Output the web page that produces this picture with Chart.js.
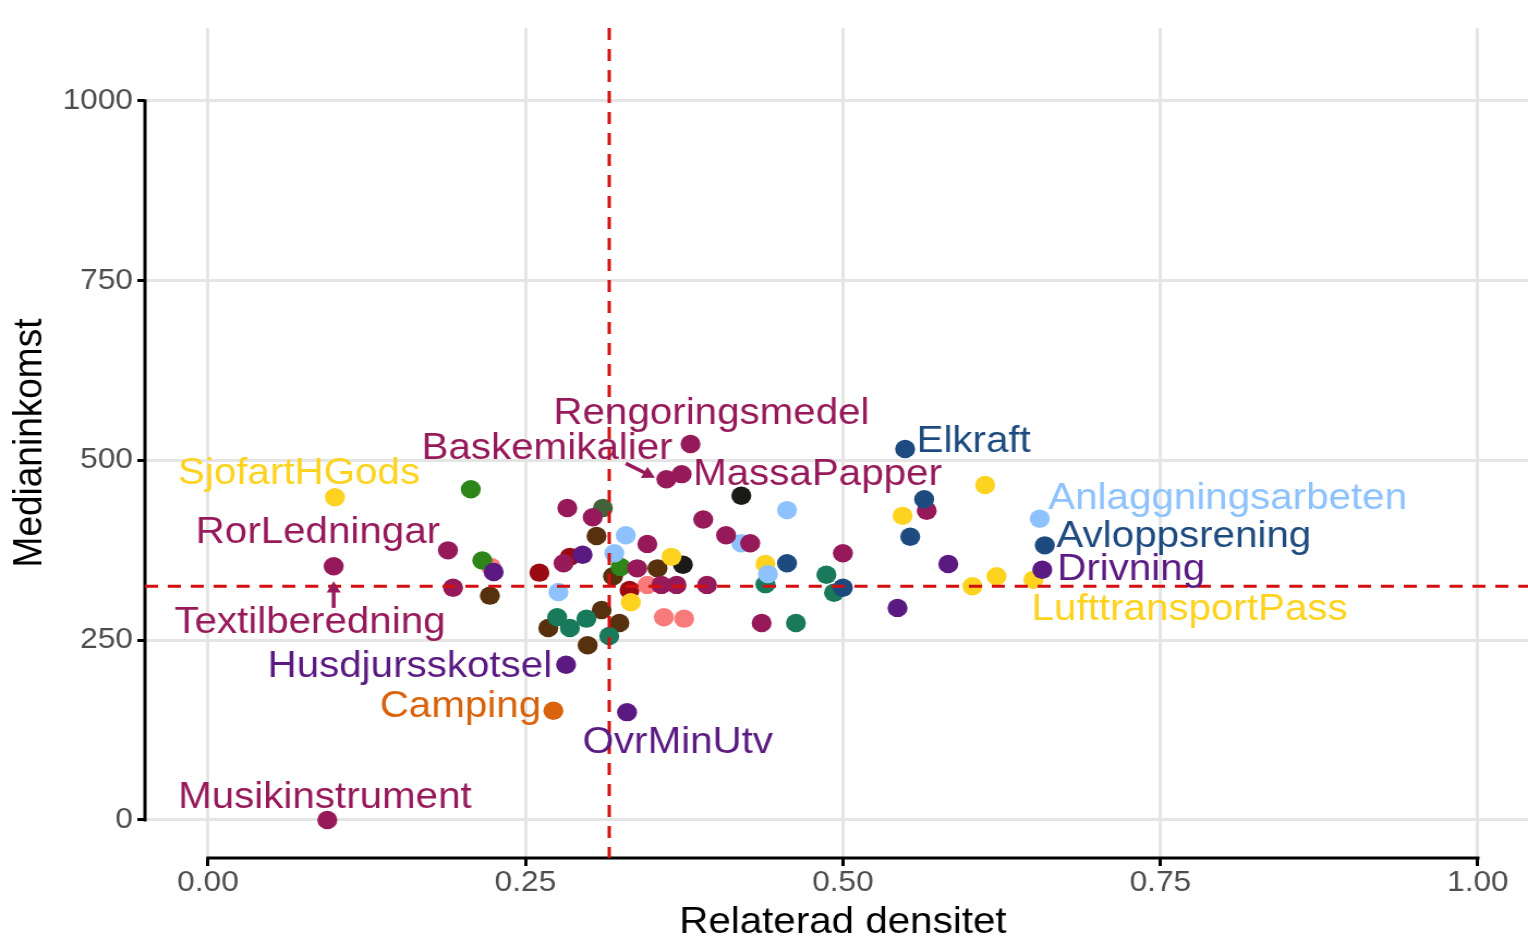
<!DOCTYPE html>
<html>
<head>
<meta charset="utf-8">
<script src="https://cdn.jsdelivr.net/npm/chart.js@4.4.1/dist/chart.umd.min.js"></script>
<style>
  html, body { margin: 0; padding: 0; background: #fff; }
</style>
</head>
<body>
<!-- the reference is a little wider than tall, so the canvas is stretched sideways -->
<canvas id="chart" width="1402" height="937" style="display:block;width:1528px;height:937px"></canvas>
<script>
// tick labels
const xTicks = [0, 0.25, 0.5, 0.75, 1];
const yTicks = [0, 250, 500, 750, 1000];
const xTitle = 'Relaterad densitet';
const yTitle = 'Medianinkomst';

// medians (dashed red lines)
const medianDensitet = 0.316;
const medianInkomst = 325;

// points [Relaterad densitet, Medianinkomst] per colour group
const marin   = [[0.549,516],[0.564,446],[0.553,394],[0.456,357],[0.500,323],[0.659,382]];
const lila    = [[0.657,348],[0.583,356],[0.543,295],[0.282,216],[0.330,150],[0.295,369],[0.225,345]];
const vinrod  = [[0.094,0],[0.099,353],[0.189,375],[0.193,323],[0.283,434],[0.303,421],[0.280,357],
                 [0.338,350],[0.346,384],[0.357,327],[0.369,327],[0.393,327],[0.361,474],[0.373,481],
                 [0.380,523],[0.390,418],[0.408,396],[0.427,385],[0.436,274],[0.500,371],[0.566,430]];
const ljusbla = [[0.655,419],[0.456,431],[0.420,385],[0.441,342],[0.329,396],[0.320,371],[0.276,317]];
const gron    = [[0.207,460],[0.216,361],[0.325,352]];
const oliv    = [[0.311,434]];
const gul     = [[0.100,449],[0.333,303],[0.365,366],[0.439,356],[0.547,423],[0.612,466],[0.602,325],
                 [0.621,339],[0.650,334]];
const turkos  = [[0.275,282],[0.285,267],[0.298,280],[0.316,256],[0.439,328],[0.463,274],[0.487,341],[0.493,316]];
const laxrosa = [[0.223,352],[0.346,327],[0.359,282],[0.375,280]];
const brun    = [[0.222,312],[0.268,267],[0.299,243],[0.306,395],[0.310,292],[0.319,339],[0.324,274],[0.354,350]];
const morkrod = [[0.261,344],[0.285,366],[0.332,320]];
const svart   = [[0.420,451],[0.374,355]];
const orange  = [[0.272,152]];

// named industries
const labelNames = ['SjofartHGods', 'RorLedningar', 'Textilberedning', 'Husdjursskotsel', 'Camping',
  'OvrMinUtv', 'Musikinstrument', 'Rengoringsmedel', 'Baskemikalier', 'MassaPapper', 'Elkraft',
  'Anlaggningsarbeten', 'Avloppsrening', 'Drivning', 'LufttransportPass'];

const colors = {
  marin: '#1E4B7F', lila: '#5B1A82', vinrod: '#961A5A', ljusbla: '#8DC2FF', gron: '#2E8519',
  oliv: '#44623A', gul: '#FDD320', turkos: '#187A5A', laxrosa: '#F87A7A', brun: '#57300E',
  morkrod: '#990A12', svart: '#1C1919', orange: '#D9620C'
};
const groups = { marin, lila, vinrod, ljusbla, gron, oliv, gul, turkos, laxrosa, brun, morkrod, svart, orange };

// where the label text sits (centre x, baseline y, in data units) and its colour
const labelAt = [[0.0717,467],[0.0866,385],[0.0803,260],[0.159,199],[0.1988,143],[0.370,93],[0.0921,17],
  [0.3965,551],[0.267,502],[0.480,466],[0.603,512],[0.803,432.5],[0.7685,380],[0.727,334],[0.773,278]];
const labelColors = ['gul','vinrod','vinrod','lila','orange','lila','vinrod','vinrod','vinrod','vinrod',
  'marin','ljusbla','marin','lila','gul'];
const arrows = [
  { from: [0.099, 295], to: [0.099, 332], color: 'vinrod' },
  { from: [0.329, 496], to: [0.352, 476], color: 'vinrod' }
];

const family = "'Liberation Sans', Arial, Helvetica, sans-serif";
Chart.defaults.font.family = family;

function drawArrow(ctx, x0, y0, x1, y1, color) {
  const a = Math.atan2(y1 - y0, x1 - x0);
  const h = 13, w = 0.52;
  ctx.strokeStyle = color;
  ctx.fillStyle = color;
  ctx.lineWidth = 3.5;
  ctx.beginPath();
  ctx.moveTo(x0, y0);
  ctx.lineTo(x1 - h * 0.7 * Math.cos(a), y1 - h * 0.7 * Math.sin(a));
  ctx.stroke();
  ctx.beginPath();
  ctx.moveTo(x1, y1);
  ctx.lineTo(x1 - h * Math.cos(a - w), y1 - h * Math.sin(a - w));
  ctx.lineTo(x1 - h * Math.cos(a + w), y1 - h * Math.sin(a + w));
  ctx.closePath();
  ctx.fill();
}

const extras = {
  id: 'extras',
  beforeDatasetsDraw(chart) {
    // capped axis lines, only from first to last tick
    const { ctx, chartArea, scales: { x, y } } = chart;
    ctx.save();
    ctx.strokeStyle = '#000';
    ctx.lineWidth = 3;
    ctx.beginPath();
    ctx.moveTo(chartArea.left, y.getPixelForValue(yTicks[0]) + 1.5);
    ctx.lineTo(chartArea.left, y.getPixelForValue(yTicks[yTicks.length - 1]) - 1.5);
    ctx.moveTo(x.getPixelForValue(xTicks[0]) - 1.5, chartArea.bottom);
    ctx.lineTo(x.getPixelForValue(xTicks[xTicks.length - 1]) + 1.5, chartArea.bottom);
    ctx.stroke();
    // x title centred under the middle of the full (uncropped) panel
    ctx.fillStyle = '#000';
    ctx.font = '37px ' + family;
    ctx.textAlign = 'center';
    ctx.textBaseline = 'alphabetic';
    ctx.fillText(xTitle, x.getPixelForValue(0.5), chart.height - 4);
    ctx.restore();
  },
  afterDatasetsDraw(chart) {
    const { ctx, chartArea, scales: { x, y } } = chart;
    ctx.save();
    // median lines
    ctx.strokeStyle = '#D40F0F';
    ctx.lineWidth = 3;
    ctx.setLineDash([12, 9]);
    ctx.beginPath();
    const mx = x.getPixelForValue(medianDensitet);
    const my = y.getPixelForValue(medianInkomst);
    ctx.moveTo(mx, chartArea.top);
    ctx.lineTo(mx, chartArea.bottom);
    ctx.moveTo(chartArea.left, my);
    ctx.lineTo(chartArea.right, my);
    ctx.stroke();
    ctx.setLineDash([]);

    arrows.forEach(a => drawArrow(ctx,
      x.getPixelForValue(a.from[0]), y.getPixelForValue(a.from[1]),
      x.getPixelForValue(a.to[0]), y.getPixelForValue(a.to[1]), colors[a.color]));

    ctx.font = '37px ' + family;
    ctx.textAlign = 'center';
    ctx.textBaseline = 'alphabetic';
    labelNames.forEach((name, i) => {
      ctx.fillStyle = colors[labelColors[i]];
      ctx.fillText(name, x.getPixelForValue(labelAt[i][0]), y.getPixelForValue(labelAt[i][1]));
    });
    ctx.restore();
  }
};

const datasets = Object.keys(groups).map(k => ({
  label: k,
  data: groups[k].map(p => ({ x: p[0], y: p[1] })),
  backgroundColor: colors[k],
  borderColor: colors[k],
  borderWidth: 0,
  pointRadius: 9.2,
  pointHoverRadius: 9.2
}));

const ctx = document.getElementById('chart').getContext('2d');
new Chart(ctx, {
  type: 'scatter',
  data: { datasets },
  plugins: [extras],
  options: {
    responsive: false,
    devicePixelRatio: 1,
    animation: false,
    layout: { autoPadding: false, padding: { top: 28, right: 0, bottom: 0, left: 0 } },
    plugins: { legend: { display: false }, tooltip: { enabled: false } },
    scales: {
      x: {
        type: 'linear',
        min: -0.0496,
        max: 1.0395,
        afterBuildTicks: s => { s.ticks = xTicks.map(v => ({ value: v })); },
        afterFit: s => { s.height = 79; s.paddingLeft = 0; s.paddingRight = 0; },
        border: { display: false },
        grid: { color: '#E5E5E5', lineWidth: 3, tickColor: '#000', tickWidth: 3, tickLength: 8 },
        ticks: {
          color: '#4D4D4D', font: { size: 29 }, padding: 0, maxRotation: 0, autoSkip: false,
          callback: v => Number(v).toFixed(2)
        },
        title: { display: false }
      },
      y: {
        type: 'linear',
        min: -52.85,
        max: 1101.5,
        afterBuildTicks: s => { s.ticks = yTicks.map(v => ({ value: v })); },
        afterFit: s => { s.width = 133; s.paddingTop = 0; s.paddingBottom = 0; },
        border: { display: false },
        grid: { color: '#E5E5E5', lineWidth: 3, tickColor: '#000', tickWidth: 3, tickLength: 7 },
        ticks: { color: '#4D4D4D', font: { size: 29 }, padding: 4, callback: v => String(v) },
        title: { display: true, text: yTitle, color: '#000',
          font: { size: 37, lineHeight: 1 }, padding: { top: 9, bottom: 0 } }
      }
    }
  }
});
</script>
</body>
</html>
